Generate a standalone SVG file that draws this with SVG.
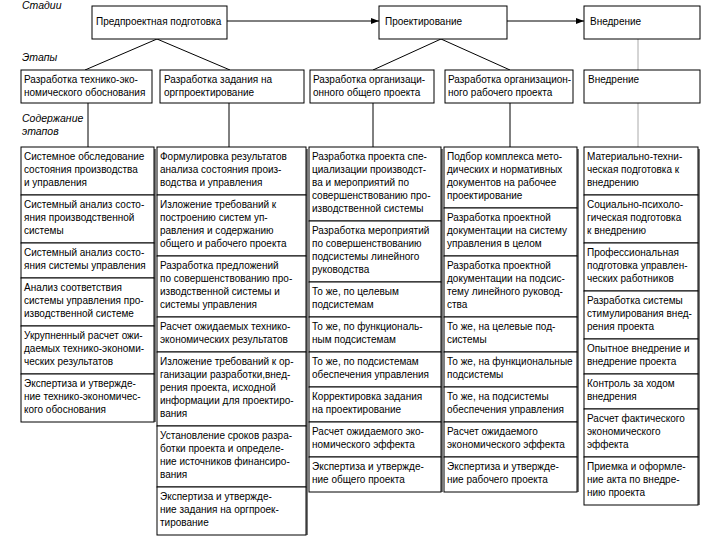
<svg xmlns="http://www.w3.org/2000/svg" width="720" height="540" viewBox="0 0 720 540">
<style>
.bx{fill:#fff;stroke:#000;stroke-width:1}
.t{font-family:"Liberation Sans",Arial,sans-serif;font-size:10px;fill:#000}
.lb{font-family:"Liberation Sans",Arial,sans-serif;font-size:10.5px;font-style:italic;fill:#000}
.c{stroke:#000;stroke-width:1;fill:none}
.g{stroke:#aaa;stroke-width:1;fill:none}
.sh{fill:#777}
</style>
<defs>
<marker id="ar" viewBox="0 0 8 6" refX="8" refY="3" markerWidth="8" markerHeight="6" orient="auto" markerUnits="userSpaceOnUse">
<path d="M0,0 L8,3 L0,6 z" fill="#000"/>
</marker>
</defs>
<rect width="720" height="540" fill="#fff"/>
<g id="labels">
<text class="lb" x="22" y="9">Стадии</text>
<text class="lb" x="22" y="61">Этапы</text>
<text class="lb" x="22" y="122">Содержание</text>
<text class="lb" x="22" y="135">этапов</text>
</g>
<g id="connectors">
<line class="c" x1="227" y1="21" x2="379" y2="21" marker-end="url(#ar)"/>
<line class="c" x1="507" y1="21" x2="584" y2="21" marker-end="url(#ar)"/>
<line class="c" x1="157" y1="39" x2="85" y2="70"/>
<line class="c" x1="157" y1="39" x2="230" y2="70"/>
<line class="c" x1="441" y1="39" x2="373" y2="70"/>
<line class="c" x1="441" y1="39" x2="510" y2="70"/>
<line class="g" x1="638" y1="39" x2="638" y2="70"/>
<line class="c" x1="88" y1="103" x2="88" y2="147"/>
<line class="c" x1="229" y1="103" x2="229" y2="147"/>
<line class="c" x1="373" y1="103" x2="373" y2="147"/>
<line class="c" x1="510" y1="103" x2="510" y2="147"/>
<line class="g" x1="638" y1="103" x2="638" y2="147"/>
</g>
<g id="shadows">
<rect class="sh" x="154" y="149" width="2" height="273"/>
<rect class="sh" x="306" y="149" width="2" height="386"/>
<rect class="sh" x="441" y="149" width="2" height="343"/>
<rect class="sh" x="577" y="149" width="2" height="343"/>
<rect class="sh" x="698" y="149" width="2" height="356"/>
</g>
<g id="stage1"><rect class="bx" x="92" y="6" width="135" height="33"/><text class="t" x="96" y="25">Предпроектная подготовка</text></g>
<g id="stage2"><rect class="bx" x="379" y="6" width="128" height="33"/><text class="t" x="385" y="25">Проектирование</text></g>
<g id="stage3"><rect class="bx" x="584" y="6" width="116" height="33"/><text class="t" x="590" y="25">Внедрение</text></g>
<g id="etap1"><rect class="bx" x="21" y="70" width="131" height="33"/><text class="t" x="24" y="83">Разработка технико-эко-</text><text class="t" x="24" y="96">номического обоснования</text></g>
<g id="etap2"><rect class="bx" x="160" y="70" width="144" height="33"/><text class="t" x="164" y="83">Разработка задания на</text><text class="t" x="164" y="96">оргпроектирование</text></g>
<g id="etap3"><rect class="bx" x="310" y="70" width="124" height="33"/><text class="t" x="313" y="83">Разработка организаци-</text><text class="t" x="313" y="96">онного общего проекта</text></g>
<g id="etap4"><rect class="bx" x="445" y="70" width="128" height="33"/><text class="t" x="448" y="83">Разработка организацион-</text><text class="t" x="448" y="96">ного рабочего проекта</text></g>
<g id="etap5"><rect class="bx" x="584" y="70" width="116" height="33"/><text class="t" x="588" y="83">Внедрение</text></g>

<g id="c1b1"><rect class="bx" x="21" y="147" width="133" height="48"/><text class="t" x="24" y="160">Системное обследование</text><text class="t" x="24" y="173">состояния производства</text><text class="t" x="24" y="186">и управления</text></g>
<g id="c1b2"><rect class="bx" x="21" y="195" width="133" height="48"/><text class="t" x="24" y="208">Системный анализ состо-</text><text class="t" x="24" y="221">яния производственной</text><text class="t" x="24" y="234">системы</text></g>
<g id="c1b3"><rect class="bx" x="21" y="243" width="133" height="35"/><text class="t" x="24" y="256">Системный анализ состо-</text><text class="t" x="24" y="269">яния системы управления</text></g>
<g id="c1b4"><rect class="bx" x="21" y="278" width="133" height="48"/><text class="t" x="24" y="291">Анализ соответствия</text><text class="t" x="24" y="304">системы управления про-</text><text class="t" x="24" y="317">изводственной системе</text></g>
<g id="c1b5"><rect class="bx" x="21" y="326" width="133" height="48"/><text class="t" x="24" y="339">Укрупненный расчет ожи-</text><text class="t" x="24" y="352">даемых технико-экономи-</text><text class="t" x="24" y="365">ческих результатов</text></g>
<g id="c1b6"><rect class="bx" x="21" y="374" width="133" height="48"/><text class="t" x="24" y="387">Экспертиза и утвержде-</text><text class="t" x="24" y="400">ние технико-экономичес-</text><text class="t" x="24" y="413">кого обоснования</text></g>

<g id="c2b1"><rect class="bx" x="157" y="147" width="149" height="48"/><text class="t" x="160" y="160">Формулировка результатов</text><text class="t" x="160" y="173">анализа состояния произ-</text><text class="t" x="160" y="186">водства и управления</text></g>
<g id="c2b2"><rect class="bx" x="157" y="195" width="149" height="61"/><text class="t" x="160" y="208">Изложение требований к</text><text class="t" x="160" y="221">построению систем уп-</text><text class="t" x="160" y="234">равления и содержанию</text><text class="t" x="160" y="247">общего и рабочего проекта</text></g>
<g id="c2b3"><rect class="bx" x="157" y="256" width="149" height="61"/><text class="t" x="160" y="269">Разработка предложений</text><text class="t" x="160" y="282">по совершенствованию про-</text><text class="t" x="160" y="295">изводственной системы и</text><text class="t" x="160" y="308">системы управления</text></g>
<g id="c2b4"><rect class="bx" x="157" y="317" width="149" height="35"/><text class="t" x="160" y="330">Расчет ожидаемых технико-</text><text class="t" x="160" y="343">экономических результатов</text></g>
<g id="c2b5"><rect class="bx" x="157" y="352" width="149" height="74"/><text class="t" x="160" y="365">Изложение требований к ор-</text><text class="t" x="160" y="378">ганизации разработки,внед-</text><text class="t" x="160" y="391">рения проекта, исходной</text><text class="t" x="160" y="404">информации для проектиро-</text><text class="t" x="160" y="417">вания</text></g>
<g id="c2b6"><rect class="bx" x="157" y="426" width="149" height="61"/><text class="t" x="160" y="439">Установление сроков разра-</text><text class="t" x="160" y="452">ботки проекта и определе-</text><text class="t" x="160" y="465">ние источников финансиро-</text><text class="t" x="160" y="478">вания</text></g>
<g id="c2b7"><rect class="bx" x="157" y="487" width="149" height="48"/><text class="t" x="160" y="500">Экспертиза и утвержде-</text><text class="t" x="160" y="513">ние задания на оргпроек-</text><text class="t" x="160" y="526">тирование</text></g>

<g id="c3b1"><rect class="bx" x="309" y="147" width="132" height="74"/><text class="t" x="312" y="160">Разработка проекта спе-</text><text class="t" x="312" y="173">циализации производст-</text><text class="t" x="312" y="186">ва и мероприятий по</text><text class="t" x="312" y="199">совершенствованию про-</text><text class="t" x="312" y="212">изводственной системы</text></g>
<g id="c3b2"><rect class="bx" x="309" y="221" width="132" height="61"/><text class="t" x="312" y="234">Разработка мероприятий</text><text class="t" x="312" y="247">по совершенствованию</text><text class="t" x="312" y="260">подсистемы линейного</text><text class="t" x="312" y="273">руководства</text></g>
<g id="c3b3"><rect class="bx" x="309" y="282" width="132" height="35"/><text class="t" x="312" y="295">То же, по целевым</text><text class="t" x="312" y="308">подсистемам</text></g>
<g id="c3b4"><rect class="bx" x="309" y="317" width="132" height="35"/><text class="t" x="312" y="330">То же, по функциональ-</text><text class="t" x="312" y="343">ным подсистемам</text></g>
<g id="c3b5"><rect class="bx" x="309" y="352" width="132" height="35"/><text class="t" x="312" y="365">То же, по подсистемам</text><text class="t" x="312" y="378">обеспечения управления</text></g>
<g id="c3b6"><rect class="bx" x="309" y="387" width="132" height="35"/><text class="t" x="312" y="400">Корректировка задания</text><text class="t" x="312" y="413">на проектирование</text></g>
<g id="c3b7"><rect class="bx" x="309" y="422" width="132" height="35"/><text class="t" x="312" y="435">Расчет ожидаемого эко-</text><text class="t" x="312" y="448">номического эффекта</text></g>
<g id="c3b8"><rect class="bx" x="309" y="457" width="132" height="35"/><text class="t" x="312" y="470">Экспертиза и утвержде-</text><text class="t" x="312" y="483">ние общего проекта</text></g>

<g id="c4b1"><rect class="bx" x="444" y="147" width="133" height="61"/><text class="t" x="447" y="160">Подбор комплекса мето-</text><text class="t" x="447" y="173">дических и нормативных</text><text class="t" x="447" y="186">документов на рабочее</text><text class="t" x="447" y="199">проектирование</text></g>
<g id="c4b2"><rect class="bx" x="444" y="208" width="133" height="48"/><text class="t" x="447" y="221">Разработка проектной</text><text class="t" x="447" y="234">документации на систему</text><text class="t" x="447" y="247">управления в целом</text></g>
<g id="c4b3"><rect class="bx" x="444" y="256" width="133" height="61"/><text class="t" x="447" y="269">Разработка проектной</text><text class="t" x="447" y="282">документации на подсис-</text><text class="t" x="447" y="295">тему линейного руковод-</text><text class="t" x="447" y="308">ства</text></g>
<g id="c4b4"><rect class="bx" x="444" y="317" width="133" height="35"/><text class="t" x="447" y="330">То же, на целевые под-</text><text class="t" x="447" y="343">системы</text></g>
<g id="c4b5"><rect class="bx" x="444" y="352" width="133" height="35"/><text class="t" x="447" y="365">То же, на функциональные</text><text class="t" x="447" y="378">подсистемы</text></g>
<g id="c4b6"><rect class="bx" x="444" y="387" width="133" height="35"/><text class="t" x="447" y="400">То же, на подсистемы</text><text class="t" x="447" y="413">обеспечения управления</text></g>
<g id="c4b7"><rect class="bx" x="444" y="422" width="133" height="35"/><text class="t" x="447" y="435">Расчет ожидаемого</text><text class="t" x="447" y="448">экономического эффекта</text></g>
<g id="c4b8"><rect class="bx" x="444" y="457" width="133" height="35"/><text class="t" x="447" y="470">Экспертиза и утвержде-</text><text class="t" x="447" y="483">ние рабочего проекта</text></g>

<g id="c5b1"><rect class="bx" x="584" y="147" width="114" height="48"/><text class="t" x="587" y="160">Материально-техни-</text><text class="t" x="587" y="173">ческая подготовка к</text><text class="t" x="587" y="186">внедрению</text></g>
<g id="c5b2"><rect class="bx" x="584" y="195" width="114" height="48"/><text class="t" x="587" y="208">Социально-психоло-</text><text class="t" x="587" y="221">гическая подготовка</text><text class="t" x="587" y="234">к внедрению</text></g>
<g id="c5b3"><rect class="bx" x="584" y="243" width="114" height="48"/><text class="t" x="587" y="256">Профессиональная</text><text class="t" x="587" y="269">подготовка управлен-</text><text class="t" x="587" y="282">ческих работников</text></g>
<g id="c5b4"><rect class="bx" x="584" y="291" width="114" height="48"/><text class="t" x="587" y="304">Разработка системы</text><text class="t" x="587" y="317">стимулирования внед-</text><text class="t" x="587" y="330">рения проекта</text></g>
<g id="c5b5"><rect class="bx" x="584" y="339" width="114" height="35"/><text class="t" x="587" y="352">Опытное внедрение и</text><text class="t" x="587" y="365">внедрение проекта</text></g>
<g id="c5b6"><rect class="bx" x="584" y="374" width="114" height="35"/><text class="t" x="587" y="387">Контроль за ходом</text><text class="t" x="587" y="400">внедрения</text></g>
<g id="c5b7"><rect class="bx" x="584" y="409" width="114" height="48"/><text class="t" x="587" y="422">Расчет фактического</text><text class="t" x="587" y="435">экономического</text><text class="t" x="587" y="448">эффекта</text></g>
<g id="c5b8"><rect class="bx" x="584" y="457" width="114" height="48"/><text class="t" x="587" y="470">Приемка и оформле-</text><text class="t" x="587" y="483">ние акта по внедре-</text><text class="t" x="587" y="496">нию проекта</text></g>
</svg>
